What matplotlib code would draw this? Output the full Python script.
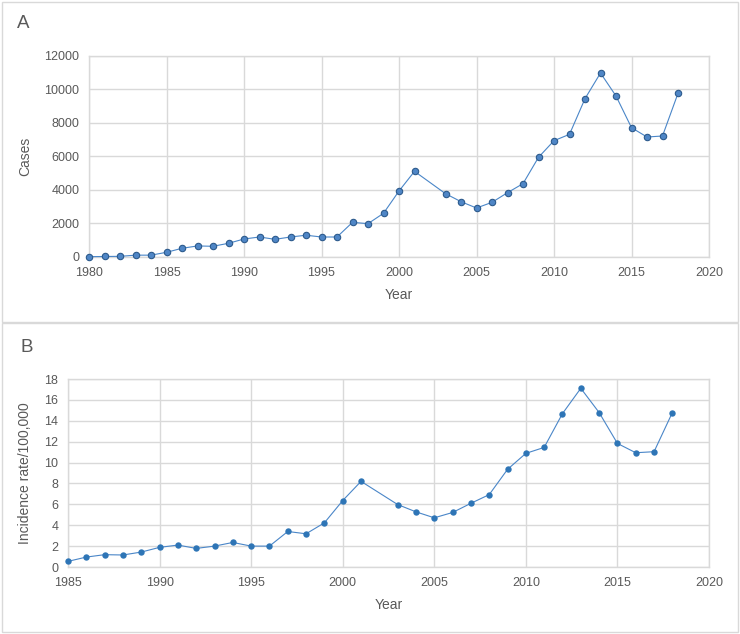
import matplotlib
matplotlib.use('Agg')
import matplotlib.pyplot as plt
from matplotlib.patches import Rectangle

plt.rcParams['font.family'] = ['Liberation Sans', 'DejaVu Sans']

# panel A: cases per year (no data for 2002)
years_a = [1980, 1981, 1982, 1983, 1984, 1985, 1986, 1987, 1988, 1989,
           1990, 1991, 1992, 1993, 1994, 1995, 1996, 1997, 1998, 1999,
           2000, 2001, 2003, 2004, 2005, 2006, 2007, 2008, 2009, 2010,
           2011, 2012, 2013, 2014, 2015, 2016, 2017, 2018]
cases = [20, 30, 40, 110, 110, 280, 520, 660, 640, 818,
         1075, 1194, 1055, 1194, 1300, 1194, 1194, 2070, 1990, 2608,
         3940, 5114, 3781, 3303, 2925, 3264, 3841, 4378, 5950, 6945,
         7323, 9453, 10985, 9612, 7721, 7164, 7224, 9771]

# panel B: incidence rate per 100,000
years_b = [1985, 1986, 1987, 1988, 1989, 1990, 1991, 1992, 1993, 1994,
           1995, 1996, 1997, 1998, 1999, 2000, 2001, 2003, 2004, 2005,
           2006, 2007, 2008, 2009, 2010, 2011, 2012, 2013, 2014, 2015,
           2016, 2017, 2018]
rate = [0.54, 0.95, 1.18, 1.15, 1.43, 1.88, 2.1, 1.78, 2.0, 2.35,
        2.0, 2.0, 3.4, 3.18, 4.23, 6.36, 8.2, 5.98, 5.28, 4.71,
        5.22, 6.1, 6.93, 9.35, 10.88, 11.45, 14.69, 17.11, 14.79, 11.83,
        10.94, 11.04, 14.79]

W, H = 740, 634
txt = '#595959'
grid = '#d9d9d9'
line_col = '#4a86c8'

fig = plt.figure(figsize=(W / 100, H / 100), dpi=100)


def px(l, t, r, b):
    return [l / W, 1 - b / H, (r - l) / W, (b - t) / H]


def style(ax):
    ax.grid(True, color=grid, lw=1)
    ax.set_axisbelow(True)
    for s in ax.spines.values():
        s.set_color(grid)
        s.set_linewidth(1)
    ax.tick_params(length=0, labelsize=9, labelcolor=txt, pad=7)


# panel frames
fig.patches.append(Rectangle((2 / W, 1 - 322 / H), 736 / W, 320 / H,
                             transform=fig.transFigure, fill=False,
                             ec=grid, lw=1))
fig.patches.append(Rectangle((2 / W, 1 - 632 / H), 736 / W, 309 / H,
                             transform=fig.transFigure, fill=False,
                             ec=grid, lw=1))

ax1 = fig.add_axes(px(89, 56, 709, 257))
ax1.plot(years_a, cases, color=line_col, lw=0.8, marker='o', ms=4.6,
         mfc='#4f86c6', mec='#2c5a8c', mew=0.8, clip_on=False, zorder=3)
ax1.set_xlim(1980, 2020)
ax1.set_ylim(0, 12000)
ax1.set_xticks(range(1980, 2021, 5))
ax1.set_yticks(range(0, 12001, 2000))
style(ax1)
ax1.set_xlabel('Year', fontsize=10, color=txt, labelpad=7)
ax1.set_ylabel('Cases', fontsize=10, color=txt, labelpad=9)
fig.text(17 / W, 1 - 23 / H, 'A', fontsize=13.5, color=txt, va='center')

ax2 = fig.add_axes(px(68, 379, 709, 567))
ax2.plot(years_b, rate, color=line_col, lw=0.8, marker='o', ms=4.6,
         mfc='#2e75b6', mec='#2e75b6', mew=0, clip_on=False, zorder=3)
ax2.set_xlim(1985, 2020)
ax2.set_ylim(0, 18)
ax2.set_xticks(range(1985, 2021, 5))
ax2.set_yticks(range(0, 19, 2))
style(ax2)
ax2.set_xlabel('Year', fontsize=10, color=txt, labelpad=7)
ax2.set_ylabel('Incidence rate/100,000', fontsize=10, color=txt, labelpad=9)
fig.text(20 / W, 1 - 347 / H, 'B', fontsize=13.5, color=txt, va='center')

fig.savefig('out.png', dpi=100)
